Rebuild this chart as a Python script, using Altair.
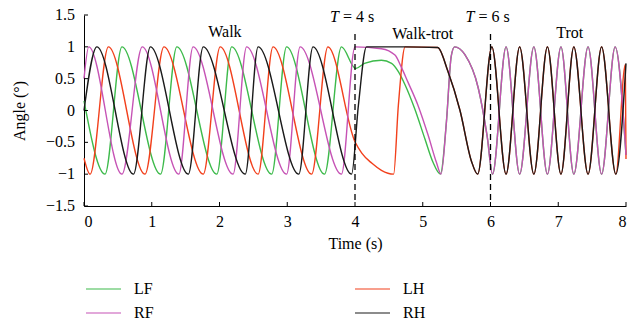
import altair as alt
import pandas as pd

# ---- data ----
series_names = ["LF", "RF", "LH", "RH"]
series_colors = ["#3dba4b", "#c653b5", "#f2401c", "#1a1a1a"]

lf_t = [0.0, 0.31, 0.56, 1.13, 1.37, 1.96, 2.18, 2.77, 2.99, 3.55, 3.80, 4.01, 4.14, 4.39, 4.54, 4.64, 4.74, 4.88, 5.03, 5.15, 5.26,
        5.35, 5.42, 5.47, 5.62, 5.82, 5.95, 6.03, 6.23, 6.43, 6.64, 6.84, 7.04, 7.23, 7.44, 7.64, 7.84, 8.0]
lf_v = [0.15, -1.0, 1.0, -1.0, 1.0, -1.0, 1.0, -1.0, 1.0, -1.0, 1.0, 0.66, 0.74, 0.79, 0.74, 0.61, 0.40, 0.03, -0.44, -0.81, -1.0,
        -0.17, 0.85, 1.0, 0.88, 0.35, -0.4, -1.0, 1.0, -1.0, 1.0, -1.0, 1.0, -1.0, 1.0, -1.0, 1.0, -0.7]

rf_t = [0.0, 0.07, 0.56, 0.86, 1.40, 1.61, 2.20, 2.40, 2.99, 3.19, 3.80, 4.0, 4.39, 4.59, 4.68, 4.78, 4.93, 5.08, 5.20, 5.27,
        5.35, 5.42, 5.47, 5.62, 5.82, 5.95, 6.03, 6.23, 6.43, 6.64, 6.84, 7.04, 7.23, 7.44, 7.64, 7.84, 8.0]
rf_v = [0.5, 1.0, -1.0, 1.0, -1.0, 1.0, -1.0, 1.0, -1.0, 1.0, -1.0, 1.0, 0.97, 0.87, 0.69, 0.45, 0.08, -0.39, -0.81, -1.0,
        -0.17, 0.85, 1.0, 0.88, 0.35, -0.4, -1.0, 1.0, -1.0, 1.0, -1.0, 1.0, -1.0, 1.0, -1.0, 1.0, -0.7]

lh_t = [0.0, 0.09, 0.36, 0.90, 1.18, 1.76, 2.01, 2.57, 2.79, 3.36, 3.60, 4.0, 4.10, 4.25, 4.39, 4.57, 4.64, 4.74,
        5.22, 5.37, 5.55, 5.72, 5.81, 6.02, 6.23, 6.43, 6.64, 6.84, 7.04, 7.23, 7.44, 7.64, 7.85, 7.99, 8.0]
lh_v = [-0.75, -1.0, 1.0, -1.0, 1.0, -1.0, 1.0, -1.0, 1.0, -1.0, 1.0, -0.49, -0.67, -0.83, -0.94, -1.0, 0.08, 1.0,
        0.99, 0.62, 0.0, -0.8, -1.0, 1.0, -1.0, 1.0, -1.0, 1.0, -1.0, 1.0, -1.0, 1.0, -1.0, 0.72, -0.76]

rh_t = [0.0, 0.19, 0.73, 0.98, 1.54, 1.76, 2.38, 2.57, 3.17, 3.38, 3.95, 4.05, 4.17, 4.74,
        5.22, 5.37, 5.55, 5.72, 5.81, 6.02, 6.23, 6.43, 6.64, 6.84, 7.04, 7.23, 7.44, 7.64, 7.85, 8.0]
rh_v = [0.0, 1.0, -1.0, 1.0, -1.0, 1.0, -1.0, 1.0, -1.0, 1.0, -1.0, 0.08, 1.0, 1.0,
        0.99, 0.62, 0.0, -0.8, -1.0, 1.0, -1.0, 1.0, -1.0, 1.0, -1.0, 1.0, -1.0, 1.0, -1.0, 0.74]

x_ticks = [0, 1, 2, 3, 4, 5, 6, 7, 8]
y_ticks = [-1.5, -1.0, -0.5, 0.0, 0.5, 1.0, 1.5]
y_tick_labels = ["\u22121.5", "\u22121", "\u22120.5", "0", "0.5", "1", "1.5"]
switch_times = [4, 6]
phase_labels = ["Walk", "Walk-trot", "Trot"]
phase_t = [2.08, 5.0, 7.17]
phase_v = [1.23, 1.20, 1.22]

FONT = "Liberation Serif"
W, H = 542, 191

frames = []
for name, ts, vs in [("LF", lf_t, lf_v), ("RF", rf_t, rf_v), ("LH", lh_t, lh_v), ("RH", rh_t, rh_v)]:
    frames.append(pd.DataFrame({"t": ts, "v": vs, "leg": name}))
data = pd.concat(frames, ignore_index=True)

xs = alt.Scale(domain=[0, 8], nice=False, zero=False)
ys = alt.Scale(domain=[-1.5, 1.5], nice=False, zero=False)

x_axis = alt.Axis(values=x_ticks, title="Time (s)", ticks=False, grid=False,
                  labelExpr="'' + datum.value",
                  labelPadding=7, titlePadding=6, labelOverlap=False)
y_axis = alt.Axis(values=y_ticks, title="Angle (°)", ticks=False, grid=False, labels=False,
                  titlePadding=57)

# legend fills column by column: LF RF | LH RH
color_scale = alt.Scale(domain=series_names, range=series_colors)
legend = alt.Legend(orient="none", legendX=1, legendY=266, columns=2, title=None,
                    symbolType="stroke", symbolSize=1225, symbolStrokeWidth=1.2, clipHeight=16,
                    labelOffset=12, columnPadding=200, rowPadding=8,
                    labelFont=FONT, labelFontSize=16, labelColor="black")

base = alt.Chart(data)


def curve(name):
    return base.transform_filter(alt.datum.leg == name).mark_line(
        interpolate="monotone", strokeWidth=1.4
    ).encode(
        x=alt.X("t:Q", scale=xs, axis=x_axis),
        y=alt.Y("v:Q", scale=ys, axis=y_axis),
        color=alt.Color("leg:N", scale=color_scale, legend=legend),
    )


# drawing order: green under magenta, red under black
lines = [curve(n) for n in ["LF", "LH", "RF", "RH"]]

xt = alt.Chart(pd.DataFrame({"t": x_ticks})).mark_rule(color="black", strokeWidth=1).encode(
    x=alt.X("t:Q", scale=xs, axis=x_axis), y=alt.value(H), y2=alt.value(H - 4))
ytick_df = pd.DataFrame({"v": y_ticks, "lab": y_tick_labels})
yt = alt.Chart(ytick_df).mark_rule(color="black", strokeWidth=1).encode(
    y=alt.Y("v:Q", scale=ys, axis=y_axis), x=alt.value(0), x2=alt.value(4))
ylab = alt.Chart(ytick_df).mark_text(
    font=FONT, fontSize=16, color="black", align="right", baseline="middle"
).encode(y=alt.Y("v:Q", scale=ys, axis=y_axis), x=alt.value(-9), text="lab:N")

dashes = alt.Chart(pd.DataFrame({"t": switch_times})).mark_rule(
    color="black", strokeWidth=1.3, strokeDash=[6, 4]
).encode(x=alt.X("t:Q", scale=xs, axis=x_axis), y=alt.datum(1.2), y2=alt.datum(-1.42))

phase = alt.Chart(pd.DataFrame({"label": phase_labels, "t": phase_t, "v": phase_v})).mark_text(
    font=FONT, fontSize=16, color="black", baseline="middle", align="center"
).encode(x=alt.X("t:Q", scale=xs, axis=x_axis), y=alt.Y("v:Q", scale=ys, axis=y_axis), text="label:N")

sw = pd.DataFrame({"t": switch_times, "rest": ["= 4 s", "= 6 s"]})
t_italic = alt.Chart(sw).mark_text(
    font=FONT, fontSize=16, fontStyle="italic", color="black", baseline="middle", align="left", dx=-25
).encode(x=alt.X("t:Q", scale=xs, axis=x_axis), y=alt.datum(1.47), text=alt.value("T"))
t_rest = alt.Chart(sw).mark_text(
    font=FONT, fontSize=16, color="black", baseline="middle", align="left", dx=-12
).encode(x=alt.X("t:Q", scale=xs, axis=x_axis), y=alt.datum(1.47), text="rest:N")

chart = alt.layer(*lines, xt, yt, ylab, dashes, phase, t_italic, t_rest).properties(
    width=W, height=H,
    autosize=alt.AutoSizeParams(type="none"),
    padding={"left": 76, "top": 7, "right": 8, "bottom": 114},
).configure_view(strokeWidth=0).configure_axis(
    domainColor="black", domainWidth=1, labelFont=FONT, labelFontSize=16, labelColor="black",
    titleFont=FONT, titleFontSize=16, titleFontWeight="normal", titleColor="black",
    labelOverlap=False,
)

chart.save("out.html", embed_options={"renderer": "svg", "actions": False})
